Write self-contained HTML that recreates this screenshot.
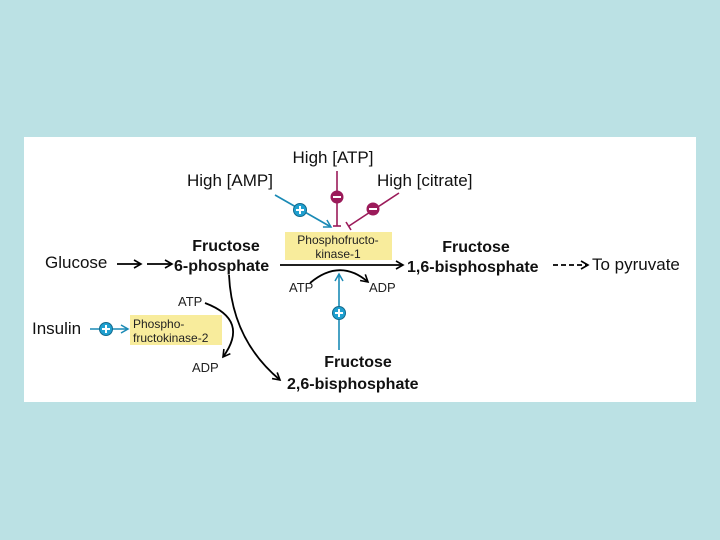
<!DOCTYPE html>
<html><head><style>
body{margin:0;background:#bbe1e4;}
svg{display:block;font-family:"Liberation Sans",sans-serif;}
</style></head><body>
<svg width="720" height="540" viewBox="0 0 720 540">
<defs>
<marker id="ak" markerWidth="10" markerHeight="10" refX="8" refY="5" orient="auto" markerUnits="userSpaceOnUse"><path d="M1,1 L8,5 L1,9" fill="none" stroke="#000" stroke-width="1.6"/></marker>
<marker id="ab" markerWidth="10" markerHeight="10" refX="8" refY="5" orient="auto" markerUnits="userSpaceOnUse"><path d="M1,1 L8,5 L1,9" fill="none" stroke="#1a8ab5" stroke-width="1.5"/></marker>
</defs>
<rect x="24" y="137" width="672" height="265" fill="#fff"/>
<g font-size="17" fill="#111">
<text x="333" y="163" text-anchor="middle">High [ATP]</text>
<text x="187" y="186">High [AMP]</text>
<text x="377" y="186">High [citrate]</text>
<text x="45" y="268">Glucose</text>
<text x="592" y="270">To pyruvate</text>
<text x="32" y="334">Insulin</text>
</g>
<g font-size="16" font-weight="bold" fill="#111">
<text x="226" y="251" text-anchor="middle">Fructose</text>
<text x="174" y="271">6-phosphate</text>
<text x="476" y="252" text-anchor="middle">Fructose</text>
<text x="407" y="272">1,6-bisphosphate</text>
<text x="358" y="367" text-anchor="middle">Fructose</text>
<text x="287" y="389">2,6-bisphosphate</text>
</g>
<rect x="285" y="232" width="107" height="28" fill="#f8ec9c"/>
<rect x="130" y="315" width="92" height="30" fill="#f8ec9c"/>
<g font-size="12" fill="#222">
<text x="338" y="244" text-anchor="middle">Phosphofructo-</text>
<text x="338" y="258" text-anchor="middle">kinase-1</text>
<text x="133" y="328">Phospho-</text>
<text x="133" y="342">fructokinase-2</text>
<text x="289" y="292" font-size="13">ATP</text>
<text x="369" y="292" font-size="13">ADP</text>
<text x="178" y="306" font-size="13">ATP</text>
<text x="192" y="372" font-size="13">ADP</text>
</g>
<g stroke="#000" stroke-width="1.8" fill="none">
<line x1="117" y1="264" x2="141" y2="264" marker-end="url(#ak)"/>
<line x1="147" y1="264" x2="172" y2="264" marker-end="url(#ak)"/>
<line x1="280" y1="265" x2="403" y2="265" marker-end="url(#ak)"/>
<line x1="553" y1="265" x2="588" y2="265" stroke-dasharray="5,3" marker-end="url(#ak)"/>
<path d="M310,283 Q340,258 368,282" marker-end="url(#ak)"/>
<path d="M229,275 Q232,340 280,380" marker-end="url(#ak)"/>
<path d="M205,303 Q250,320 223,357" marker-end="url(#ak)"/>
</g>
<g stroke="#1a8ab5" stroke-width="1.6" fill="none">
<line x1="275" y1="195" x2="331" y2="227" marker-end="url(#ab)"/>
<line x1="339" y1="350" x2="339" y2="274" marker-end="url(#ab)"/>
<line x1="90" y1="329" x2="128" y2="329" marker-end="url(#ab)"/>
</g>
<g stroke="#9b1b5a" stroke-width="1.6" fill="none">
<line x1="337" y1="171" x2="337" y2="226"/>
<line x1="333" y1="226" x2="341" y2="226"/>
<line x1="399" y1="193" x2="349" y2="226"/>
<line x1="346" y1="222" x2="351" y2="230"/>
</g>
<g>
<circle cx="300" cy="210" r="6.5" fill="#1fa0d0" stroke="#136a8c"/>
<circle cx="339" cy="313" r="6.5" fill="#1fa0d0" stroke="#136a8c"/>
<circle cx="106" cy="329" r="6.5" fill="#1fa0d0" stroke="#136a8c"/>
<circle cx="337" cy="197" r="6.5" fill="#9b1b5a"/>
<circle cx="373" cy="209" r="6.5" fill="#9b1b5a"/>
<g stroke="#fff" stroke-width="2">
<path d="M296,210h8M300,206v8"/><path d="M335,313h8M339,309v8"/><path d="M102,329h8M106,325v8"/>
<path d="M333,197h8"/><path d="M369,209h8"/>
</g>
</g>
</svg>
</body></html>
